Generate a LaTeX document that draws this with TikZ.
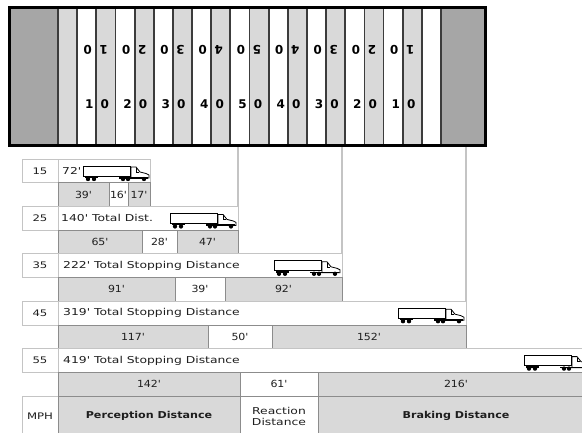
\documentclass[tikz,border=0pt]{standalone}
\usepackage{fontspec}
\setmainfont{DejaVu Sans}
\newfontfamily\lblf[FakeStretch=1.3]{DejaVu Sans}
\newfontfamily\numf[FakeStretch=1.12]{DejaVu Sans}
\newfontfamily\bldf[FakeStretch=1.17]{DejaVu Sans}
\newfontfamily\fldf{DejaVu Sans}
\definecolor{stripe}{HTML}{D9D9D9}
\definecolor{endz}{HTML}{A6A6A6}
\definecolor{seg}{HTML}{D9D9D9}
\definecolor{bord}{HTML}{8C8C8C}
\definecolor{lbord}{HTML}{C4C4C4}
\definecolor{txt}{HTML}{1E1E1E}
\definecolor{yline}{HTML}{3C3C3C}
\begin{document}
\begin{tikzpicture}[x=1pt,y=-1pt,
  lblbox/.style={draw=lbord,line width=0.8pt,fill=white,minimum height=23.7pt,inner sep=0pt,outer sep=0pt,anchor=north west,text=txt,font=\lblf\fontsize{9}{10}\selectfont},
  seggray/.style={draw=bord,line width=0.8pt,fill=seg,minimum height=23.7pt,inner sep=0pt,outer sep=0pt,anchor=north west,text=txt,font=\numf\fontsize{9.8}{11}\selectfont},
  segwhite/.style={seggray,fill=white},
  rowtxt/.style={anchor=west,inner sep=0pt,text=txt,font=\lblf\fontsize{9.5}{11}\selectfont},
  yard/.style={inner sep=0pt,text=black,font=\fldf\bfseries\fontsize{12}{13}\selectfont},
  guide/.style={draw=lbord,line width=1.2pt},
  truck/.pic={
    \draw[fill=white,line width=0.8pt] (0,0) rectangle (47,10);
    \draw[fill=white,line width=0.8pt] (48,1) -- (53,1) -- (57,6) -- (63,7.5) -- (66,9) -- (66,12) -- (48,12) -- cycle;
    \draw[line width=0.5pt] (53,2) -- (53,6) -- (56,6);
    \fill (2,10) rectangle (15,12);
    \fill (36,11) rectangle (65,12.5);
    \fill (5,13) circle[radius=2.2pt];
    \fill (11,13) circle[radius=2.2pt];
    \fill (40,13) circle[radius=2.2pt];
    \fill (45,13) circle[radius=2.2pt];
    \fill (61,13) circle[radius=2.2pt];
  }
]
\useasboundingbox (0,0) rectangle (582,432);
\clip (0,0) rectangle (582,432);
% ---------- field ----------
\fill[endz] (10,8) rectangle (58,145);
\fill[endz] (442,8) rectangle (485,145);
\foreach \i in {0,2,...,18}{
  \fill[stripe] ({58+\i*19.15},8) rectangle ({58+(\i+1)*19.15},145);
}
\foreach \i in {0,...,20}{
  \draw[yline,line width=1.8pt] ({58+\i*19.15},8) -- ({58+\i*19.15},145);
}
\draw[black,line width=3.5pt] (9.5,7.5) rectangle (485.5,145.5);
\foreach \k/\v in {2/1,4/2,6/3,8/4,10/5,12/4,14/3,16/2,18/1}{
  \node[yard] (bl\k) at ({58+\k*19.15-7},104) {\v};
  \node[yard] (br\k) at ({58+\k*19.15+8.5},104) {0};
  \node[yard,rotate=180] (tl\k) at ({58+\k*19.15+7.5},50) {\v};
  \node[yard,rotate=180] (tr\k) at ({58+\k*19.15-8.5},50) {0};
}
\coordinate (fb) at (0,147);
% ---------- row 15 ----------
\node[lblbox,minimum width=36pt] (r15l) at (22,159) {15};
\node[lblbox,minimum width=92pt] (r15t) at (58,159) {};
\node[rowtxt] (r15x) at (62,171) {72'};
\pic at (83,166) {truck};
\node[seggray,minimum width=51pt] (r15p) at (58,182.7) {39'};
\node[segwhite,minimum width=19pt] (r15r) at (109,182.7) {16'};
\node[seggray,minimum width=22pt] (r15b) at (128,182.7) {17'};
% ---------- row 25 ----------
\node[lblbox,minimum width=36pt] (r25l) at (22,206.4) {25};
\node[lblbox,minimum width=180pt] (r25t) at (58,206.4) {};
\node[rowtxt] (r25x) at (61,218.3) {140' Total Dist.};
\pic at (170,213.4) {truck};
\node[seggray,minimum width=84pt] (r25p) at (58,230.1) {65'};
\node[segwhite,minimum width=35pt] (r25r) at (142,230.1) {28'};
\node[seggray,minimum width=61pt] (r25b) at (177,230.1) {47'};
% ---------- row 35 ----------
\node[lblbox,minimum width=36pt] (r35l) at (22,253.8) {35};
\node[lblbox,minimum width=284pt] (r35t) at (58,253.8) {};
\node[rowtxt] (r35x) at (63,265.7) {222' Total Stopping Distance};
\pic at (274,260.8) {truck};
\node[seggray,minimum width=117pt] (r35p) at (58,277.5) {91'};
\node[segwhite,minimum width=50pt] (r35r) at (175,277.5) {39'};
\node[seggray,minimum width=117pt] (r35b) at (225,277.5) {92'};
% ---------- row 45 ----------
\node[lblbox,minimum width=36pt] (r45l) at (22,301.2) {45};
\node[lblbox,minimum width=408pt] (r45t) at (58,301.2) {};
\node[rowtxt] (r45x) at (63,313.1) {319' Total Stopping Distance};
\pic at (398,308.2) {truck};
\node[seggray,minimum width=150pt] (r45p) at (58,324.9) {117'};
\node[segwhite,minimum width=64pt] (r45r) at (208,324.9) {50'};
\node[seggray,minimum width=194pt] (r45b) at (272,324.9) {152'};
% ---------- row 55 ----------
\node[lblbox,minimum width=36pt] (r55l) at (22,348.6) {55};
\node[lblbox,minimum width=536pt] (r55t) at (58,348.6) {};
\node[rowtxt] (r55x) at (63,360.5) {419' Total Stopping Distance};
\pic at (524,355.6) {truck};
\node[seggray,minimum width=182pt] (r55p) at (58,372.3) {142'};
\node[segwhite,minimum width=78pt] (r55r) at (240,372.3) {61'};
\node[seggray,minimum width=276pt] (r55b) at (318,372.3) {216'};
% ---------- bottom row ----------
\node[lblbox,minimum width=36pt,minimum height=40pt] (mph) at (22,396) {MPH};
\node[seggray,minimum width=182pt,minimum height=40pt,font=\bldf\bfseries\fontsize{9.5}{11}\selectfont] (perc) at (58,396) {Perception Distance};
\node[segwhite,minimum width=78pt,minimum height=40pt,align=center,font=\lblf\fontsize{9.5}{11}\selectfont] (reac) at (240,396) {Reaction\\Distance};
\node[seggray,minimum width=276pt,minimum height=40pt,font=\bldf\bfseries\fontsize{9.5}{11}\selectfont] (brak) at (318,396) {Braking Distance};
% ---------- guide lines ----------
\draw[guide] (r25t.north east) -- (r25t.north east |- fb);
\draw[guide] (r35t.north east) -- (r35t.north east |- fb);
\draw[guide] (r45t.north east) -- (r45t.north east |- fb);
\end{tikzpicture}
\end{document}
